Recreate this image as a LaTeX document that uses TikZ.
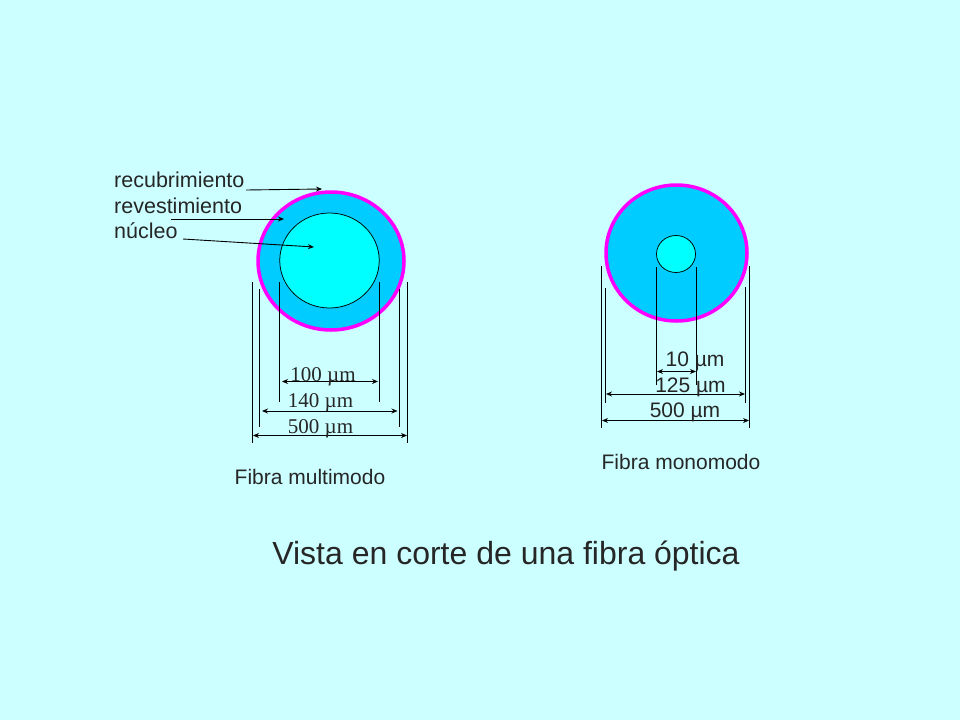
\documentclass[tikz,border=0pt]{standalone}
\usepackage{fontspec}
\setmainfont{Liberation Sans}
\newfontfamily\serifx{Liberation Serif}
\usetikzlibrary{arrows.meta,shapes.geometric}
\definecolor{bgc}{HTML}{CCFFFF}
\definecolor{cladc}{HTML}{00CCFF}
\definecolor{corec}{HTML}{00FFFF}
\definecolor{rimc}{HTML}{FF00FF}
\tikzset{
 x=1pt,y=-1pt,
 outerdisc/.style={ellipse,draw=rimc,line width=3.5pt,fill=cladc,inner sep=0pt,outer sep=0pt},
 innerdisc/.style={ellipse,draw=black,line width=0.75pt,fill=corec,inner sep=0pt,outer sep=0pt},
 lbl/.style={inner sep=0pt,anchor=base west,font=\fontsize{21.5}{21.5}\selectfont,text=black!85},
 dimser/.style={inner sep=0pt,font=\fontsize{21}{21}\selectfont\serifx,text=black!85},
 dimsan/.style={inner sep=0pt,font=\fontsize{21}{21}\selectfont,text=black!85},
 captxt/.style={inner sep=0pt,font=\fontsize{21}{21}\selectfont,text=black!85},
 extline/.style={line width=0.75pt,black},
 dimarrow/.style={line width=0.9pt,black,{Stealth[length=6pt,width=5pt]}-{Stealth[length=6pt,width=5pt]}},
 leadarrow/.style={line width=0.9pt,black,-{Stealth[length=6pt,width=5pt]}},
}
\begin{document}
\begin{tikzpicture}
\useasboundingbox (0,0) rectangle (960,720);
\fill[bgc] (0,0) rectangle (960,720);
% left fibre
\node[outerdisc,minimum width=146pt,minimum height=138pt] (lo) at (331,261) {};
\node[innerdisc,minimum width=99.5pt,minimum height=95pt] (li) at (329.5,260.5) {};
% right fibre
\node[outerdisc,minimum width=141pt,minimum height=136pt] (ro) at (676.5,253) {};
\node[innerdisc,minimum width=39pt,minimum height=37pt] (ri) at (676,254) {};
% labels
\node[lbl] (t1) at (114,187.5) {recubrimiento};
\node[lbl] (t2) at (114,213) {revestimiento};
\node[lbl] (t3) at (114,238.5) {núcleo};
\coordinate (a1s) at (246,190); \coordinate (a1e) at (322,189);
\coordinate (a2s) at (171,219); \coordinate (a2e) at (284,219);
\coordinate (a3s) at (183,239); \coordinate (a3e) at (314,247);
\draw[leadarrow] (a1s) -- (a1e);
\draw[leadarrow] (a2s) -- (a2e);
\draw[leadarrow] (a3s) -- (a3e);
% left extension lines
\foreach \n/\x/\a/\b in {a/252.5/282/443,b/259/289/427,c/279/282/402,d/379.5/282/402,e/399.5/289/427,f/407/282/443}{
 \coordinate (l\n t) at (\x,\a); \coordinate (l\n b) at (\x,\b);
 \draw[extline] (l\n t) -- (l\n b);
}
\coordinate (d1a) at (282,381.5); \coordinate (d1b) at (378,381.5);
\coordinate (d2a) at (262,411); \coordinate (d2b) at (397.5,411);
\coordinate (d3a) at (253,435.5); \coordinate (d3b) at (407,435.5);
\draw[dimarrow] (d1a) -- (d1b);
\draw[dimarrow] (d2a) -- (d2b);
\draw[dimarrow] (d3a) -- (d3b);
\node[dimser] (v1) at (323,377) {100 µm};
\node[dimser] (v2) at (320.5,402.5) {140 µm};
\node[dimser] (v3) at (320.5,429) {500 µm};
\node[captxt] (c1) at (310,477) {Fibra multimodo};
% right extension lines
\foreach \n/\x/\a/\b in {a/601.5/266/428,b/605.5/288/403,c/656.5/267/385,d/696.5/267/385,e/745/287/403,f/749/266/428}{
 \coordinate (r\n t) at (\x,\a); \coordinate (r\n b) at (\x,\b);
 \draw[extline] (r\n t) -- (r\n b);
}
\coordinate (e1a) at (657,371.5); \coordinate (e1b) at (696,371.5);
\coordinate (e2a) at (606,394); \coordinate (e2b) at (745,394);
\coordinate (e3a) at (602,420.5); \coordinate (e3b) at (749,420.5);
\draw[dimarrow] (e1a) -- (e1b);
\draw[dimarrow] (e2a) -- (e2b);
\draw[dimarrow] (e3a) -- (e3b);
\node[dimsan] (w1) at (695,361) {10 µm};
\node[dimsan] (w2) at (690.5,387) {125 µm};
\node[dimsan] (w3) at (685,412) {500 µm};
\node[captxt] (c2) at (681,462) {Fibra monomodo};
\node[inner sep=0pt,font=\fontsize{32}{32}\selectfont,text=black!85] (title) at (506,556) {Vista en corte de una fibra óptica};
\end{tikzpicture}
\end{document}
